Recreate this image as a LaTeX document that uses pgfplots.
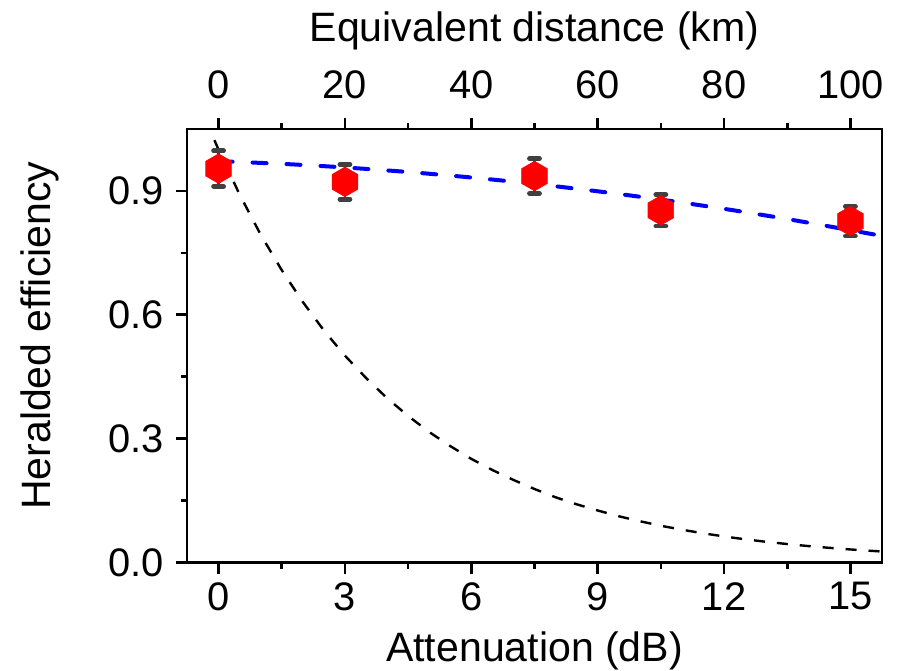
\documentclass[border=0pt]{standalone}
\usepackage{fontspec}
\setmainfont{Liberation Sans}
\usepackage{pgfplots}
\pgfplotsset{compat=1.18}
\definecolor{errgray}{RGB}{64,64,64}
\pgfdeclareplotmark{hexagon*}{%
  \pgfpathmoveto{\pgfqpointpolar{90}{\pgfplotmarksize}}%
  \pgfpathlineto{\pgfqpointpolar{150}{\pgfplotmarksize}}%
  \pgfpathlineto{\pgfqpointpolar{210}{\pgfplotmarksize}}%
  \pgfpathlineto{\pgfqpointpolar{270}{\pgfplotmarksize}}%
  \pgfpathlineto{\pgfqpointpolar{330}{\pgfplotmarksize}}%
  \pgfpathlineto{\pgfqpointpolar{30}{\pgfplotmarksize}}%
  \pgfpathclose
  \pgfusepathqfillstroke}
\pgfplotsset{
  common/.style={
    scale only axis, width=347.5bp, height=216.75bp,
    ymin=0, ymax=1.05,
    tick align=outside,
    major tick length=5.5bp, minor tick length=3bp,
    every tick/.style={black, line width=1.3bp},
    axis line style={line width=1.3bp},
    /pgf/number format/assume math mode=true,
    ticklabel style={font=\fontsize{20}{24}\selectfont},
  }
}
\begin{document}
\begin{tikzpicture}
\begin{axis}[common,
  xmin=-0.75, xmax=15.75,
  xtick={0,3,6,9,12,15}, minor x tick num=1,
  ytick={0,0.3,0.6,0.9}, minor y tick num=1,
  xtick pos=bottom, ytick pos=left,
  yticklabel style={xshift=-2.5bp, /pgf/number format/fixed, /pgf/number format/fixed zerofill, /pgf/number format/precision=1},
  xticklabel style={yshift=-1bp},
  xlabel={Attenuation (dB)}, ylabel={Heralded efficiency},
  xlabel style={font=\fontsize{20.6}{24}\selectfont, at={(axis description cs:0.5,0)}, anchor=center, yshift=-44.25bp},
  ylabel style={font=\fontsize{20.6}{24}\selectfont, at={(axis description cs:0,0.5)}, anchor=center, yshift=73.5bp, xshift=5bp},
  clip=true,
]
\addplot[black, line width=1.2bp, dash pattern=on 5.5bp off 6bp] coordinates {
(-0.1,1.023) (0,1.0) (0.5,0.891) (1,0.794) (1.5,0.708) (2,0.631) (2.5,0.562) (3,0.501)
(3.5,0.447) (4,0.398) (4.5,0.355) (5,0.316) (5.5,0.282) (6,0.251) (6.5,0.224)
(7,0.200) (7.5,0.178) (8,0.158) (8.5,0.141) (9,0.126) (9.5,0.112) (10,0.100)
(10.5,0.089) (11,0.0794) (11.5,0.0708) (12,0.0631) (12.5,0.0562) (13,0.0501)
(13.5,0.0447) (14,0.0398) (14.5,0.0355) (15,0.0316) (15.5,0.0282) (15.75,0.0266)
};
\addplot[color={rgb,255:red,0;green,0;blue,255}, line width=2bp, line cap=round, dash pattern=on 7bp off 10bp, smooth] coordinates {
(0,0.972) (1.5,0.9656) (3,0.9568) (4.5,0.9458) (6,0.9325) (7.5,0.917) (9,0.8991)
(10.5,0.879) (12,0.8566) (13.5,0.8319) (15,0.8049) (15.75,0.791)
};
\addplot[only marks, mark=hexagon*, mark size=7.4bp,
  mark options={fill=red, draw=red, line width=0.3bp},
  error bars/.cd, y dir=both, y explicit,
  error bar style={errgray, line width=1.2bp},
  error mark options={rotate=90, errgray, mark size=2.5bp, line width=2.4bp, line cap=round}]
coordinates {
(0,0.954) +- (0,0.043)
(3,0.922) +- (0,0.042)
(7.5,0.936) +- (0,0.042)
(10.5,0.853) +- (0,0.038)
(15,0.827) +- (0,0.036)
};
\end{axis}
\begin{axis}[common,
  xmin=-5, xmax=105,
  axis x line*=top, axis y line=none,
  xtick={0,20,40,60,80,100}, minor x tick num=1,
  xticklabel style={yshift=6bp},
  xlabel={Equivalent distance (km)},
  xlabel style={font=\fontsize{20.6}{24}\selectfont, at={(axis description cs:0.5,1)}, anchor=center, yshift=49bp},
]
\addplot[draw=none] coordinates {(0,0) (100,1)};
\end{axis}
\pgfresetboundingbox
\path ([xshift=-93.5bp,yshift=-54.25bp]current axis.south west) rectangle ([xshift=9bp,yshift=64.5bp]current axis.north east);
\end{tikzpicture}
\end{document}
